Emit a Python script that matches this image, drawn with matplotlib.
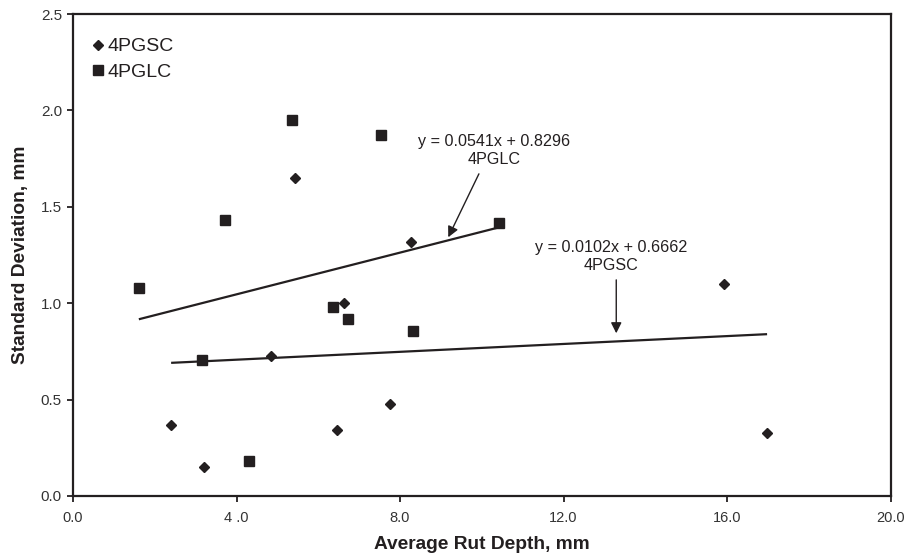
import matplotlib
matplotlib.use("Agg")
import matplotlib.pyplot as plt
import numpy as np

plt.rcParams['font.family'] = ['Liberation Sans', 'DejaVu Sans']

# Data
sc_x = [5.44, 8.27, 6.62, 4.84, 2.40, 3.20, 6.47, 7.75, 15.92, 16.98]
sc_y = [1.652, 1.317, 1.003, 0.726, 0.367, 0.149, 0.341, 0.477, 1.098, 0.327]
lc_x = [5.36, 7.53, 3.72, 1.61, 6.36, 6.72, 8.32, 10.42, 3.16, 4.30]
lc_y = [1.950, 1.873, 1.432, 1.078, 0.981, 0.917, 0.858, 1.418, 0.706, 0.183]
sc_fit = (0.0102, 0.6662)
lc_fit = (0.0541, 0.8296)
sc_label = "4PGSC"
lc_label = "4PGLC"
x_ticks = [0, 4, 8, 12, 16, 20]
x_ticklabels = ["0.0", "4 .0", "8.0", "12.0", "16.0", "20.0"]
y_ticks = [0.0, 0.5, 1.0, 1.5, 2.0, 2.5]
y_ticklabels = ["0.0", "0.5", "1.0", "1.5", "2.0", "2.5"]

ink = '#231f20'

fig = plt.figure(figsize=(9.05, 5.54), dpi=100)
ax = fig.add_axes([0.0807, 0.1047, 0.9033, 0.87])

ax.plot(sc_x, sc_y, linestyle='none', marker='D', ms=4.9, color=ink, label=sc_label)
ax.plot(lc_x, lc_y, linestyle='none', marker='s', ms=7, color=ink, label=lc_label)

# trend lines
for xs, (m, b) in ((sc_x, sc_fit), (lc_x, lc_fit)):
    xx = np.array([min(xs), max(xs)])
    ax.plot(xx, m * xx + b, color=ink, lw=1.6, solid_capstyle='butt')

ax.set_xlim(0, 20)
ax.set_ylim(0, 2.5)
ax.set_xticks(x_ticks)
ax.set_xticklabels(x_ticklabels)
ax.set_yticks(y_ticks)
ax.set_yticklabels(y_ticklabels)
ax.tick_params(direction='out', length=4, width=1.3, color=ink, labelcolor='#333333', pad=4)
ax.tick_params(axis='x', labelsize=10.5, pad=7)
ax.tick_params(axis='y', labelsize=11)
for s in ax.spines.values():
    s.set_linewidth(1.6)
    s.set_color(ink)

ax.set_xlabel("Average Rut Depth, mm", fontsize=13.8, fontweight='bold', color=ink)
ax.set_ylabel("Standard Deviation, mm", fontsize=13.8, fontweight='bold', color=ink)
ax.xaxis.set_label_coords(0.5, -0.083)
ax.yaxis.set_label_coords(-0.054, 0.5)

# annotations
ax.text(10.3, 1.79, "y = 0.0541x + 0.8296\n4PGLC", ha='center', va='center',
        fontsize=11.6, color=ink, linespacing=1.25)
ax.annotate("", xy=(9.18, 1.342), xytext=(9.93, 1.671),
            arrowprops=dict(arrowstyle='-|>', color=ink, lw=1.0, mutation_scale=16,
                            shrinkA=0, shrinkB=0))
ax.text(13.17, 1.244, "y = 0.0102x + 0.6662\n4PGSC", ha='center', va='center',
        fontsize=11.6, color=ink, linespacing=1.25)
ax.annotate("", xy=(13.29, 0.844), xytext=(13.29, 1.121),
            arrowprops=dict(arrowstyle='-|>', color=ink, lw=1.0, mutation_scale=16,
                            shrinkA=0, shrinkB=0))

leg = ax.legend(loc='upper left', frameon=False, fontsize=14, handlelength=0.5,
                handletextpad=0.25, borderaxespad=0.0, labelspacing=0.4,
                bbox_to_anchor=(0.015, 0.967))
for t in leg.get_texts():
    t.set_color(ink)

fig.savefig("out.png", dpi=100)
